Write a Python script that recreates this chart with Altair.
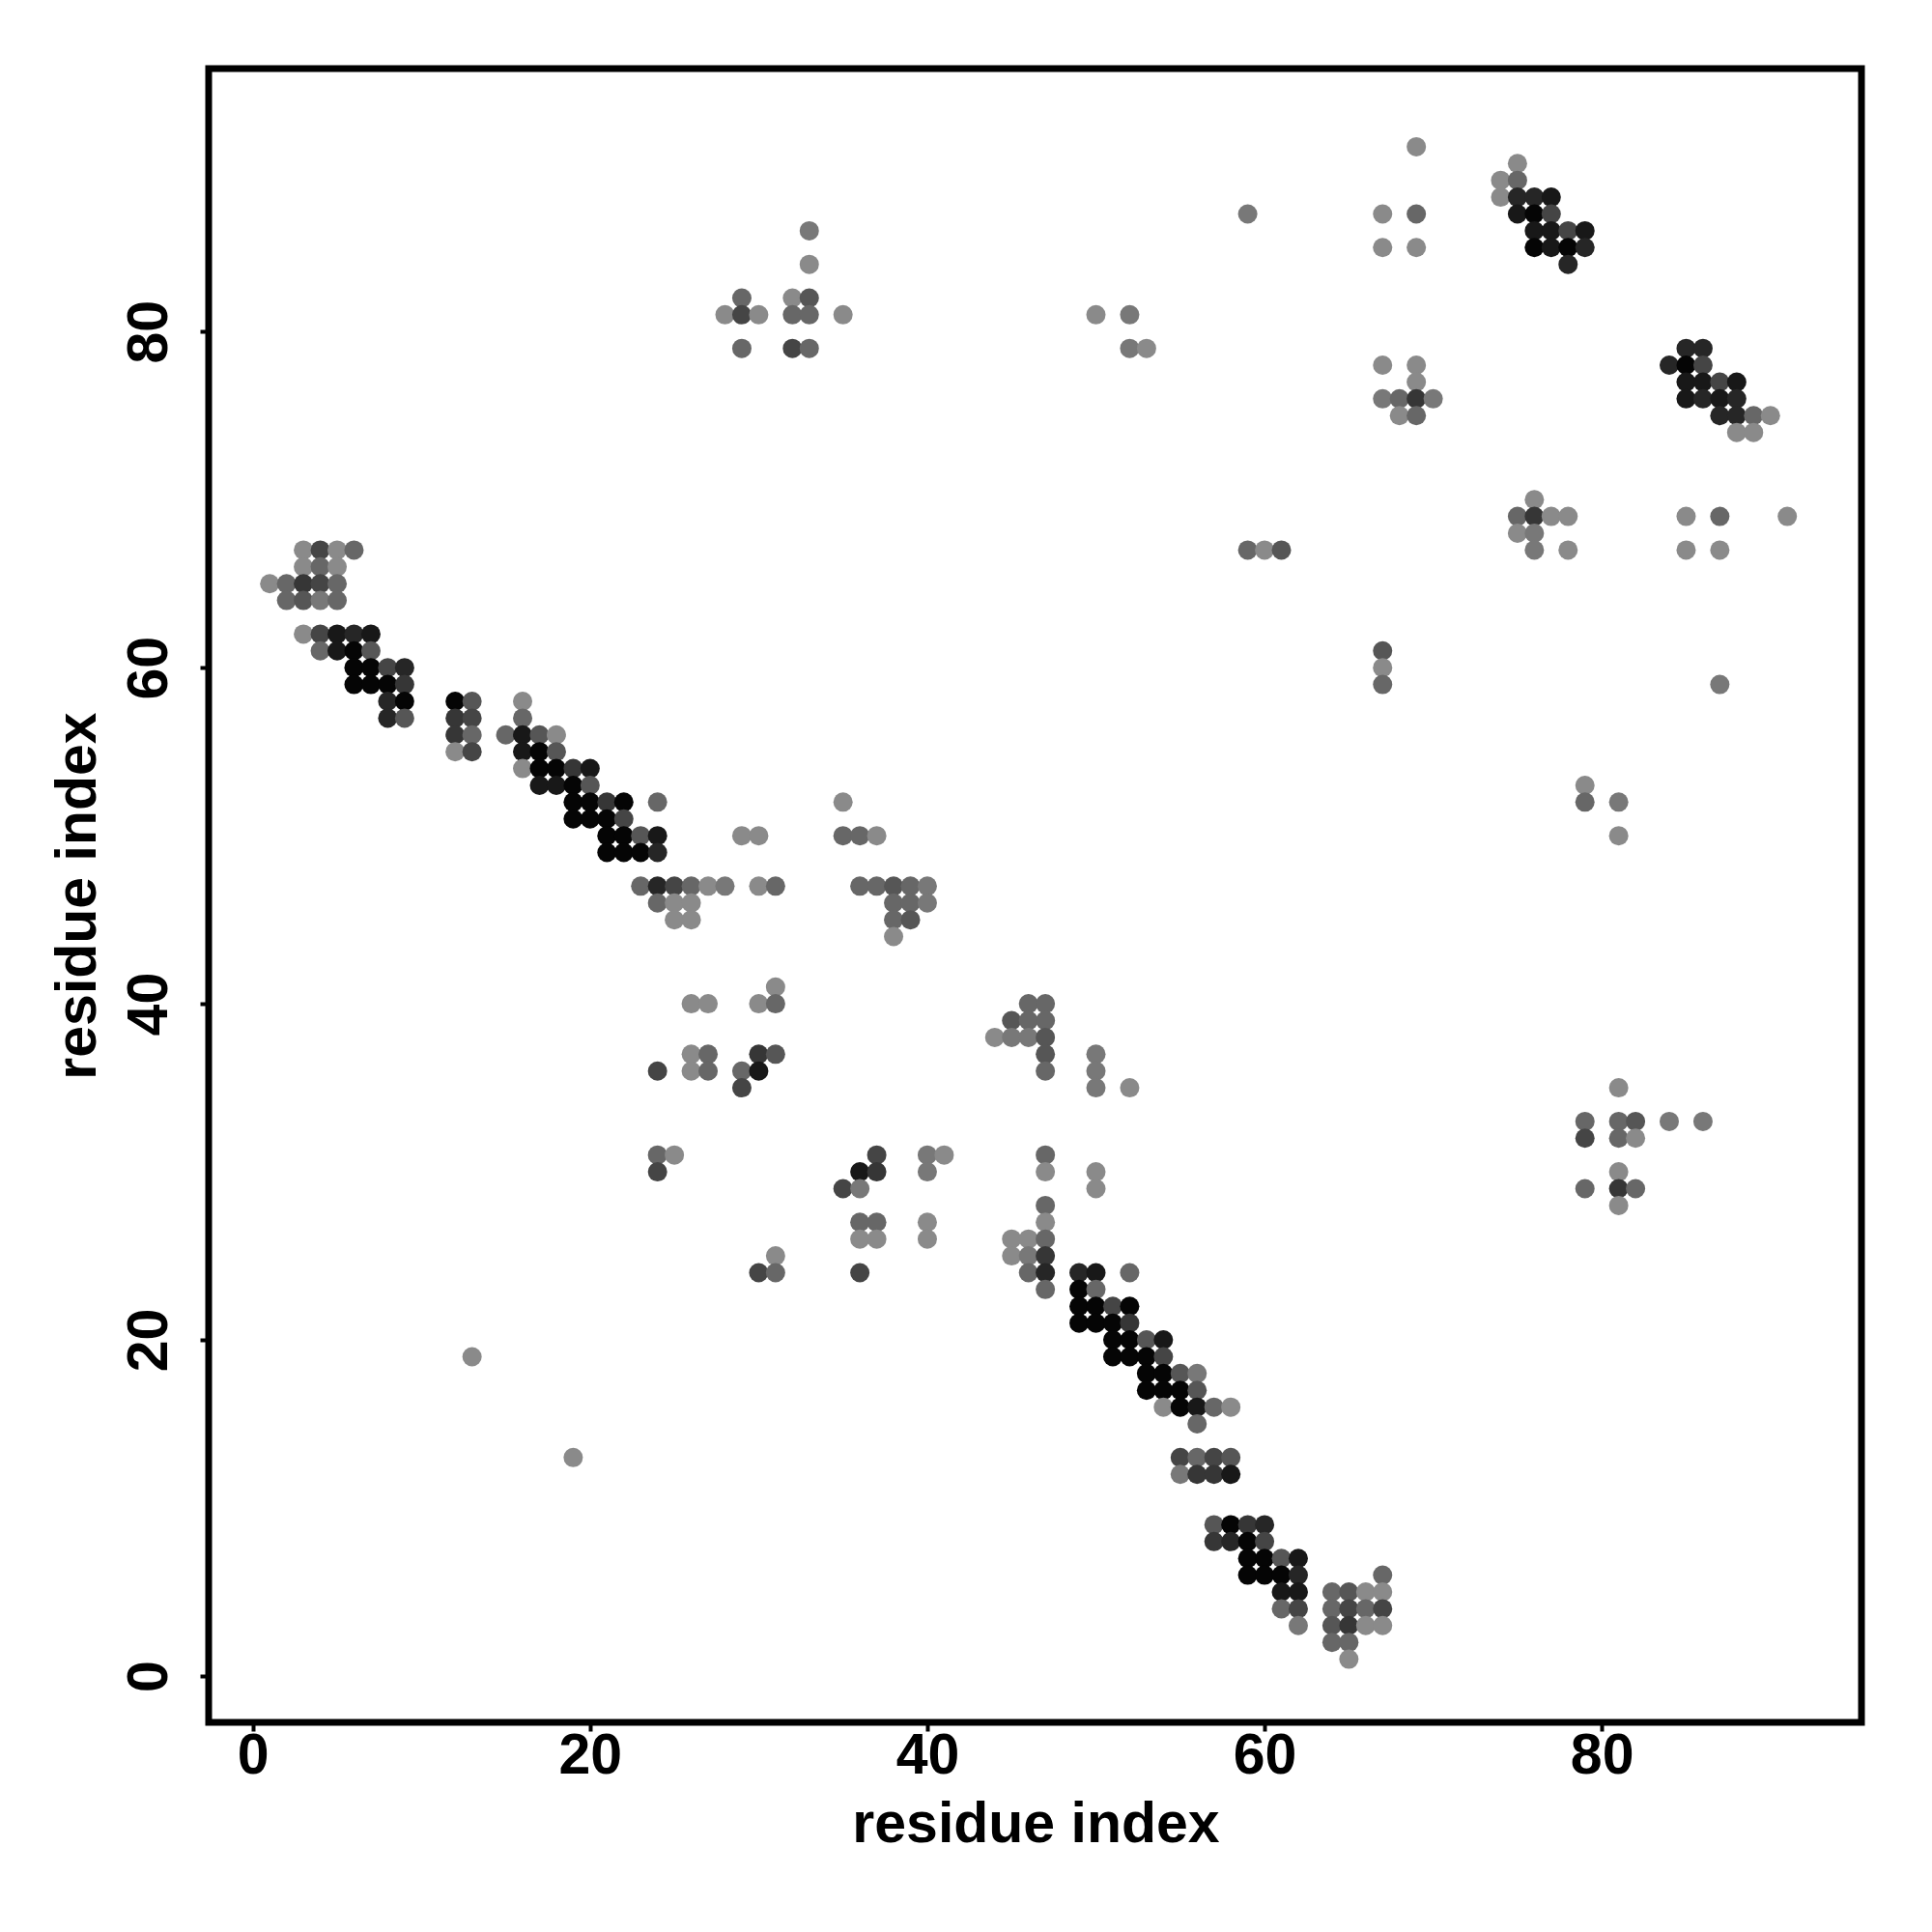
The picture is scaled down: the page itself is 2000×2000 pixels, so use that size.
import altair as alt
import pandas as pd

# contact map: for each row (residue index on y) the x residues in contact and a strength level (1 weak .. 9 strong)
row_y = [91, 90, 89, 88, 87, 86, 85, 84, 82, 81, 79, 78, 77, 76, 75, 74, 70, 69, 68, 67,
         66, 65, 64, 62, 61, 60, 59, 58, 57, 56, 55, 54, 53, 52, 51, 50, 49, 47, 46, 45,
         44, 41, 40, 39, 38, 37, 36, 35, 33, 32, 31, 30, 29, 28, 27, 26, 25, 24, 23, 22,
         21, 20, 19, 18, 17, 16, 15, 13, 12, 9, 8, 7, 6, 5, 4, 3, 2, 1]

row_x = [
    [69], [75], [74, 75], [74, 75, 76, 77], [59, 67, 69, 75, 76, 77],
    [33, 76, 77, 78, 79], [67, 69, 76, 77, 78, 79], [33, 78], [29, 32, 33],
    [28, 29, 30, 32, 33, 35, 50, 52], [29, 32, 33, 52, 53, 85, 86], [67, 69, 84, 85, 86],
    [69, 85, 86, 87, 88], [67, 68, 69, 70, 85, 86, 87, 88], [68, 69, 87, 88, 89, 90],
    [88, 89], [76], [75, 76, 77, 78, 85, 87, 91], [75, 76],
    [3, 4, 5, 6, 59, 60, 61, 76, 78, 85, 87],
    [3, 4, 5], [1, 2, 3, 4, 5], [2, 3, 4, 5], [3, 4, 5, 6, 7], [4, 5, 6, 7, 67],
    [6, 7, 8, 9, 67], [6, 7, 8, 9, 67, 87], [8, 9, 12, 13, 16], [8, 9, 12, 13, 16],
    [12, 13, 15, 16, 17, 18], [12, 13, 16, 17, 18], [16, 17, 18, 19, 20],
    [17, 18, 19, 20, 79], [19, 20, 21, 22, 24, 35, 79, 81], [19, 20, 21, 22],
    [21, 22, 23, 24, 29, 30, 35, 36, 37, 81], [21, 22, 23, 24],
    [23, 24, 25, 26, 27, 28, 30, 31, 36, 37, 38, 39, 40], [24, 25, 26, 38, 39, 40],
    [25, 26, 38, 39], [38], [31], [26, 27, 30, 31, 46, 47], [45, 46, 47], [44, 45, 46, 47],
    [26, 27, 30, 31, 47, 50], [24, 26, 27, 29, 30, 47, 50], [29, 50, 52, 81],
    [79, 81, 82, 84, 86], [79, 81, 82], [24, 25, 37, 40, 41, 47],
    [24, 36, 37, 40, 47, 50, 81], [35, 36, 50, 79, 81, 82], [47, 81], [36, 37, 40, 47],
    [36, 37, 40, 45, 46, 47], [31, 45, 46, 47], [30, 31, 36, 46, 47, 49, 50, 52],
    [47, 49, 50], [49, 50, 51, 52], [49, 50, 51, 52], [51, 52, 53, 54],
    [13, 51, 52, 53, 54], [53, 54, 55, 56], [53, 54, 55, 56], [54, 55, 56, 57, 58], [56],
    [19, 55, 56, 57, 58], [55, 56, 57, 58], [57, 58, 59, 60], [57, 58, 59, 60],
    [59, 60, 61, 62], [59, 60, 61, 62, 67], [61, 62, 64, 65, 66, 67],
    [61, 62, 64, 65, 66, 67], [62, 64, 65, 66, 67], [64, 65], [65],
]

row_level = [
    [1], [1], [1, 3], [1, 7, 7, 8], [2, 1, 3, 8, 9, 5],
    [2, 8, 8, 5, 8], [1, 1, 9, 8, 9, 7], [1, 7], [3, 1, 4],
    [1, 5, 1, 3, 3, 1, 1, 2], [3, 5, 3, 2, 1, 7, 7], [1, 1, 7, 9, 5],
    [1, 8, 8, 5, 8], [2, 3, 6, 2, 8, 7, 8, 7], [1, 3, 7, 7, 3, 1],
    [1, 1], [1], [3, 6, 1, 1, 1, 3, 1], [1, 2],
    [1, 5, 1, 3, 3, 1, 4, 2, 1, 1, 1],
    [1, 3, 1], [1, 3, 6, 5, 3], [3, 4, 2, 3], [1, 5, 8, 7, 8], [3, 8, 9, 4, 4],
    [9, 9, 5, 7, 1], [9, 9, 9, 6, 3, 2], [7, 9, 9, 4, 1], [7, 4, 6, 5, 3],
    [6, 3, 3, 8, 4, 1], [1, 5, 8, 9, 4], [1, 9, 9, 6, 8],
    [8, 8, 9, 4, 1], [9, 9, 6, 9, 3, 1, 3, 2], [9, 9, 9, 5],
    [9, 9, 4, 8, 1, 1, 3, 3, 1, 1], [9, 9, 9, 7],
    [3, 7, 5, 3, 1, 2, 1, 3, 3, 3, 4, 3, 2], [3, 1, 1, 3, 3, 2],
    [1, 1, 3, 4], [1], [1], [1, 1, 1, 3, 3, 3], [4, 3, 3], [1, 2, 2, 4],
    [1, 3, 6, 4, 4, 2], [5, 1, 3, 3, 8, 3, 2], [5, 2, 1, 1],
    [3, 3, 4, 2, 2], [5, 3, 1], [3, 1, 5, 2, 1, 3],
    [5, 8, 6, 2, 1, 1, 1], [5, 2, 1, 3, 6, 3], [3, 1], [3, 3, 1, 1],
    [1, 1, 1, 1, 1, 3], [1, 1, 2, 6], [5, 3, 5, 3, 7, 7, 8, 3],
    [3, 9, 3], [9, 9, 5, 9], [9, 9, 9, 6], [9, 9, 4, 8],
    [1, 9, 9, 9, 5], [9, 9, 4, 2], [9, 9, 9, 4], [1, 9, 8, 3, 1], [3],
    [1, 5, 3, 5, 4], [2, 6, 6, 8], [4, 9, 6, 7], [6, 7, 9, 5],
    [9, 9, 4, 8], [9, 9, 9, 7, 3], [8, 8, 3, 4, 1, 1],
    [3, 5, 3, 5, 3, 5], [2, 4, 6, 1, 1], [3, 3], [1],
]

tick_values = [0, 20, 40, 60, 80]
axis_title = "residue index"

records = []
for yv, xs, lv in zip(row_y, row_x, row_level):
    for xv, l in zip(xs, lv):
        records.append({"i": xv, "j": yv, "level": l})
df = pd.DataFrame(records)

FONT = "Liberation Sans"

chart = alt.Chart(df).mark_circle(size=400, opacity=1).encode(
    x=alt.X("i:Q",
            scale=alt.Scale(domain=[-2.62, 95.4], nice=False, zero=False),
            axis=alt.Axis(values=tick_values, title=axis_title, grid=False, domain=False,
                          tickSize=9, tickWidth=4, tickColor="black",
                          labelFont=FONT, labelFontSize=59, labelFontWeight="bold", labelColor="black",
                          labelBaseline="alphabetic", labelPadding=43, labelAlign="center",
                          titleFont=FONT, titleFontSize=59, titleFontWeight="bold", titleColor="black",
                          titleBaseline="alphabetic", titleY=123, titleX=856)),
    y=alt.Y("j:Q",
            scale=alt.Scale(domain=[-2.76, 95.65], nice=False, zero=False),
            axis=alt.Axis(values=tick_values, title=axis_title, grid=False, domain=False,
                          tickSize=9, tickWidth=4, tickColor="black",
                          labelFont=FONT, labelFontSize=59, labelFontWeight="bold", labelColor="black",
                          labelAngle=270, labelAlign="center", labelBaseline="alphabetic", labelPadding=35,
                          titleFont=FONT, titleFontSize=59, titleFontWeight="bold", titleColor="black",
                          titleAngle=270, titleAlign="center", titleBaseline="alphabetic",
                          titleX=-118, titleY=856)),
    color=alt.Color("level:Q", scale=alt.Scale(domain=[1, 9], range=["#8a8a8a", "#050505"]), legend=None),
).properties(
    width=1711, height=1712,
    padding={"left": 208, "top": 63, "right": 60, "bottom": 200},
    autosize=alt.AutoSizeParams(type="none"),
    background="white",
).configure_view(stroke="black", strokeWidth=7, fill="white")

chart.save("out.html", embed_options={"renderer": "svg", "actions": False})
